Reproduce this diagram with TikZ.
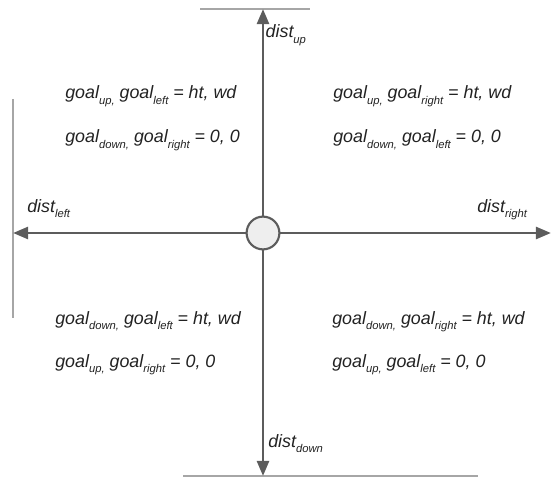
\documentclass[tikz,border=0pt]{standalone}
\usepackage{fontspec}
\setmainfont{Liberation Sans}
\usetikzlibrary{arrows.meta}
\definecolor{linegray}{HTML}{5C5C5C}
\definecolor{wallgray}{HTML}{A6A6A6}
\definecolor{agentfill}{HTML}{EEEEEE}
\definecolor{textgray}{HTML}{222222}
\newcommand{\lowsub}[1]{\raisebox{-0.6ex}{\fontsize{8}{9}\selectfont #1}}

\begin{document}
\begin{tikzpicture}[
    agent/.style={circle, draw=linegray, fill=agentfill, line width=1.5pt, minimum size=0.82cm, inner sep=0pt},
    arrow/.style={-{Triangle[length=0.38cm,width=0.3cm]}, line width=2pt, draw=linegray},
    wall/.style={line width=1.6pt, draw=wallgray},
    label/.style={anchor=base west, inner sep=0pt, font=\fontsize{12.7}{15}\selectfont\itshape, text=textgray}
]
    \useasboundingbox (-6.575,-6.125) rectangle (7.2,5.825);
    % walls
    \draw [wall] (-1.575,5.6) -- (1.175,5.6);
    \draw [wall] (-2.0,-6.075) -- (5.375,-6.075);
    \draw [wall] (-6.25,3.35) -- (-6.25,-2.125);
    % agent and the four distances
    \node (agent) [agent] at (0,0) {};
    \coordinate (upend) at (0,5.6);
    \coordinate (downend) at (0,-6.075);
    \coordinate (leftend) at (-6.25,0);
    \coordinate (rightend) at (7.2,0);
    \draw [arrow] (agent) -- (upend);
    \draw [arrow] (agent) -- (downend);
    \draw [arrow] (agent) -- (leftend);
    \draw [arrow] (agent) -- (rightend);
    \node (distup) [label] at (0.06,4.875) {dist\lowsub{up}};
    \node (distdown) [label] at (0.125,-5.35) {dist\lowsub{down}};
    \node (distleft) [label] at (-5.9,0.525) {dist\lowsub{left}};
    \node (distright) [label] at (5.35,0.525) {dist\lowsub{right}};
    % goals per quadrant
    \node (ulgoal) [label] at (-4.95,3.35) {goal\lowsub{up,} goal\lowsub{left} = ht, wd};
    \node (ulzero) [label] at (-4.95,2.26) {goal\lowsub{down,} goal\lowsub{right} = 0, 0};
    \node (urgoal) [label] at (1.75,3.35) {goal\lowsub{up,} goal\lowsub{right} = ht, wd};
    \node (urzero) [label] at (1.75,2.26) {goal\lowsub{down,} goal\lowsub{left} = 0, 0};
    \node (llgoal) [label] at (-5.2,-2.275) {goal\lowsub{down,} goal\lowsub{left} = ht, wd};
    \node (llzero) [label] at (-5.2,-3.35) {goal\lowsub{up,} goal\lowsub{right} = 0, 0};
    \node (lrgoal) [label] at (1.725,-2.275) {goal\lowsub{down,} goal\lowsub{right} = ht, wd};
    \node (lrzero) [label] at (1.725,-3.35) {goal\lowsub{up,} goal\lowsub{left} = 0, 0};
\end{tikzpicture}
\end{document}
